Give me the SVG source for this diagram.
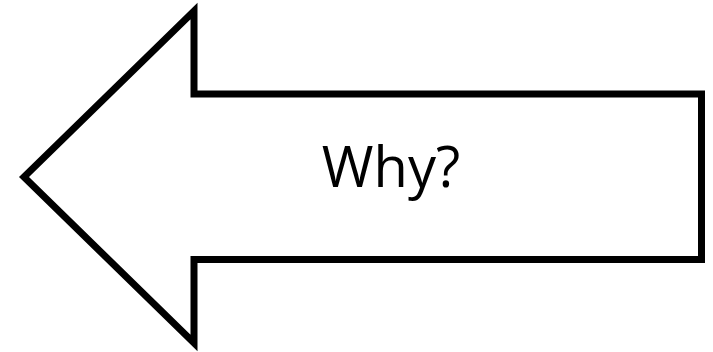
<svg xmlns="http://www.w3.org/2000/svg" width="713" height="352" viewBox="0 0 713 352">
<style>
.shape{fill:#ffffff;stroke:#000000;stroke-width:7;stroke-linejoin:miter;stroke-miterlimit:10}
.lbl{font-family:"Open Sans","Noto Sans",sans-serif;font-size:56px;fill:#000000;text-anchor:middle}
</style>
<rect width="713" height="352" fill="#ffffff"/>
<g id="arrow">
<polygon class="shape" points="24,177 194,11 194,94 701.5,94 701.5,259.5 194,259.5 194,343"/>
<text class="lbl" x="391" y="187">Why?</text>
</g>
<g id="connectors"/>
</svg>
